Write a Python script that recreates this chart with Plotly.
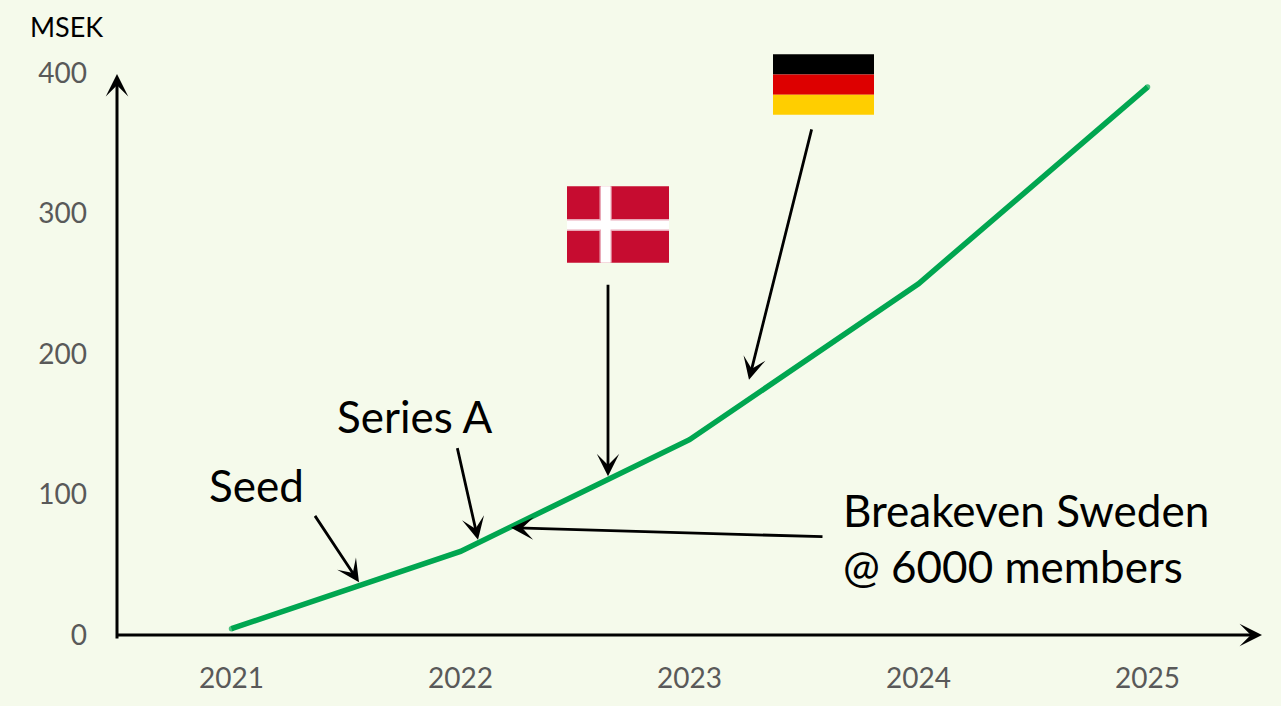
import plotly.graph_objects as go

years = [2021, 2022, 2023, 2024, 2025]
msek = [4.5, 59.5, 139, 250, 390]
y_ticks = [0, 100, 200, 300, 400]

W, H = 1281, 706
L, R, T, B = 117, 19, 73, 67
FONT = "Lato"
BG = "#F5FAEB"


def px(x):
    return (x - L) / (W - L - R)


def py(y):
    return 1 - (y - T) / (H - T - B)


fig = go.Figure()
fig.add_trace(go.Scatter(
    x=years, y=msek, mode="lines+markers",
    line=dict(color="#00A650", width=5.5, shape="linear"),
    marker=dict(color="#00A650", size=[5.5, 0, 0, 0, 5.5], line=dict(width=0)),
    hoverinfo="skip", showlegend=False,
))

arrows = [
    ((117, 640), (117, 74), 3),
    ((116, 639), (1262, 639), 3),
    ((314, 518), (359, 586), 2.8),
    ((457, 450), (478, 543), 2.8),
    ((608, 286), (608, 479), 2.8),
    ((812, 130), (749, 382), 2.8),
    ((824, 540), (511, 531), 2.8),
]
annotations = []
for (x0, y0), (x1, y1), w in arrows:
    annotations.append(dict(
        xref="paper", yref="paper", x=px(x1), y=py(y1),
        axref="pixel", ayref="pixel", ax=x0 - x1, ay=y0 - y1,
        showarrow=True, arrowhead=3, arrowsize=3.75 / w, arrowwidth=w,
        arrowcolor="#000000", text="",
    ))

labels = [
    ("MSEK", 29, 26, 27),
    ("Seed", 208, 488, 44),
    ("Series A", 336, 418, 44),
    ("Breakeven Sweden", 842, 513, 44),
    ("@ 6000 members", 842, 570, 44),
]
for text, x, y, size in labels:
    annotations.append(dict(
        xref="paper", yref="paper", x=px(x), y=py(y),
        xanchor="left", yanchor="middle",
        text=text, showarrow=False, borderpad=0,
        font=dict(family=FONT, size=size, color="#000000"),
    ))

shapes = []


def rect(x0, y0, x1, y1, color):
    shapes.append(dict(
        type="rect", xref="paper", yref="paper",
        x0=px(x0), x1=px(x1), y0=py(y0), y1=py(y1),
        fillcolor=color, line=dict(width=0), layer="above",
    ))


rect(773, 54, 874, 74.5, "#000000")
rect(773, 74.5, 874, 95, "#DD0000")
rect(773, 95, 874, 115, "#FFCE00")
rect(567, 187, 669, 264, "#C60C30")
rect(599.5, 187, 611.7, 264, "#E9A9B8")
rect(567, 220, 669, 232, "#E9A9B8")
rect(601, 187, 610.5, 264, "#FFFFFF")
rect(567, 221.5, 669, 230.5, "#FFFFFF")

fig.update_layout(
    width=W, height=H,
    margin=dict(l=L, r=R, t=T, b=B, pad=0),
    paper_bgcolor=BG, plot_bgcolor=BG,
    showlegend=False,
    annotations=annotations, shapes=shapes,
    xaxis=dict(
        range=[2020.5, 2025.5], tickmode="array", tickvals=years,
        ticktext=[str(v) for v in years], showgrid=False, zeroline=False,
        showline=False, ticks="", ticklabelstandoff=24,
        tickfont=dict(family=FONT, size=28, color="#595959"),
    ),
    yaxis=dict(
        range=[0, 400], tickmode="array", tickvals=y_ticks,
        showgrid=False, zeroline=False, showline=False, ticks="",
        ticklabelstandoff=29,
        tickfont=dict(family=FONT, size=28, color="#595959"),
    ),
    font=dict(family=FONT),
)

fig.write_html(
    "out.html",
    config=dict(displayModeBar=False),
    post_script="document.body.style.margin='0';document.documentElement.style.overflow='hidden';",
)
